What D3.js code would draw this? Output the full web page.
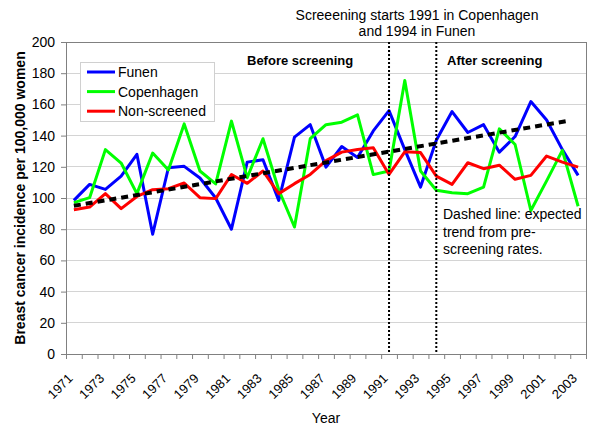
<!DOCTYPE html>
<html><head><meta charset="utf-8">
<script src="https://cdn.jsdelivr.net/npm/d3@7"></script>
<style>body{margin:0;background:#fff}svg{display:block;font-family:"Liberation Sans",Arial,sans-serif}</style>
</head><body>
<script>
const years = [1971,1972,1973,1974,1975,1976,1977,1978,1979,1980,1981,1982,1983,1984,1985,1986,1987,1988,1989,1990,1991,1992,1993,1994,1995,1996,1997,1998,1999,2000,2001,2002,2003];
const funen = [98.5,108.7,105.5,114,128,76.8,119.4,120.3,112.8,100,80,123,124.5,98.5,139,147,119.8,133,126,143,156,131,107,137,155.4,142,147,129.4,139.4,161.8,150,131,114.5];
const copenhagen = [97,100.2,131,122.4,102.8,128.8,118,147.5,117.3,109,149.3,113,138,105.3,81.4,138,147,148.6,153.3,115,117.3,175.3,117.3,105,103.4,102.8,107,144.3,134.3,92,111,130.5,94.7];
const nonScreened = [92.5,94.2,102.8,93.2,101,105.3,106,109.6,100.2,99.6,115.1,109.4,117.3,102.8,109.2,115.1,124,129.4,131.1,132.2,115.1,129.6,129.1,114,108.7,122.6,118.8,121,112,114.5,126.9,123,119.8];
const trendYears = [1971, 2002.5];
const trendValues = [95, 149.7];
const screeningYears = [1991, 1994];
const yTicks = [0,20,40,60,80,100,120,140,160,180,200];
const xLabelYears = [1971,1973,1975,1977,1979,1981,1983,1985,1987,1989,1991,1993,1995,1997,1999,2001,2003];
const seriesNames = ["Funen","Copenhagen","Non-screened"];
const seriesColors = ["#0000ff","#00ff00","#ff0000"];

const W = 600, H = 434;
const L = 66, R = 586, T = 42, B = 354;
const svg = d3.select("body").append("svg").attr("width", W).attr("height", H);

const x = d3.scaleLinear().domain([1970.5, 2003.5]).range([L, R]);
const y = d3.scaleLinear().domain([0, 200]).range([B, T]);

// gridlines
svg.append("g").selectAll("line").data(yTicks.filter(v => v > 0 && v < 200)).join("line")
  .attr("x1", L).attr("x2", R).attr("y1", d => y(d)).attr("y2", d => y(d))
  .attr("stroke", "#d4d4d4").attr("stroke-width", 1).attr("shape-rendering", "crispEdges");

// plot border
svg.append("rect").attr("x", L).attr("y", T).attr("width", R - L).attr("height", B - T)
  .attr("fill", "none").attr("stroke", "#808080").attr("stroke-width", 1).attr("shape-rendering", "crispEdges");

// y axis
const yAxis = d3.axisLeft(y).tickValues(yTicks).tickSize(5).tickPadding(6);
const gy = svg.append("g").attr("transform", `translate(${L},0)`).call(yAxis);
gy.select(".domain").attr("stroke", "#808080");
gy.selectAll(".tick line").attr("stroke", "#808080");
gy.selectAll("text").attr("font-size", 14).attr("fill", "#000").attr("font-family", "Liberation Sans, Arial, sans-serif");

// x axis: ticks at category boundaries
const boundaries = years.concat([2004]).map(v => v - 0.5);
const xAxis = d3.axisBottom(x).tickValues(boundaries).tickSize(5).tickFormat("");
const gx = svg.append("g").attr("transform", `translate(0,${B})`).call(xAxis);
gx.select(".domain").attr("stroke", "#808080");
gx.selectAll(".tick line").attr("stroke", "#808080");

// x labels rotated
svg.append("g").selectAll("text").data(xLabelYears).join("text")
  .attr("transform", d => `translate(${x(d) - 3.6},${B + 22}) rotate(-45)`)
  .attr("text-anchor", "end").attr("dy", "0.35em")
  .attr("font-size", 13).text(d => d);

// axis titles
svg.append("text").attr("x", (L + R) / 2).attr("y", 423).attr("text-anchor", "middle")
  .attr("font-size", 14).text("Year");
svg.append("text").attr("transform", `translate(25,${(T + B) / 2}) rotate(-90)`)
  .attr("text-anchor", "middle").attr("font-size", 14).attr("font-weight", "bold")
  .text("Breast cancer incidence per 100,000 women");

// series lines
const line = d3.line().x((d, i) => x(years[i])).y(d => y(d));
const allSeries = [funen, copenhagen, nonScreened];
allSeries.forEach((s, k) => {
  svg.append("path").datum(s).attr("d", line).attr("fill", "none")
    .attr("stroke", seriesColors[k]).attr("stroke-width", 3).attr("stroke-linejoin", "round");
});

// trend dashed line
const tline = d3.line().x((d, i) => x(trendYears[i])).y(d => y(d));
svg.append("path").datum(trendValues).attr("d", tline).attr("fill", "none")
  .attr("stroke", "#000").attr("stroke-width", 4).attr("stroke-dasharray", "7,5");

// screening vertical dotted lines
svg.append("g").selectAll("line").data(screeningYears).join("line")
  .attr("x1", d => x(d)).attr("x2", d => x(d)).attr("y1", T).attr("y2", B)
  .attr("stroke", "#000").attr("stroke-width", 2).attr("stroke-dasharray", "2,2");

// legend
const lg = svg.append("g");
lg.append("rect").attr("x", 80.5).attr("y", 62.5).attr("width", 134).attr("height", 59)
  .attr("fill", "#fff").attr("stroke", "#d0d0d0");
seriesNames.forEach((n, k) => {
  const yy = 72 + k * 19.6;
  lg.append("line").attr("x1", 87).attr("x2", 115).attr("y1", yy).attr("y2", yy)
    .attr("stroke", seriesColors[k]).attr("stroke-width", 3);
  lg.append("text").attr("x", 118).attr("y", yy).attr("dy", "0.35em").attr("font-size", 14).text(n);
});

// annotations
svg.append("text").attr("x", 417).attr("y", 20).attr("text-anchor", "middle").attr("font-size", 14)
  .text("Screeening starts 1991 in Copenhagen");
svg.append("text").attr("x", 417).attr("y", 36).attr("text-anchor", "middle").attr("font-size", 14)
  .text("and 1994 in Funen");
svg.append("text").attr("x", 247).attr("y", 65).attr("font-size", 13).attr("font-weight", "bold")
  .text("Before screening");
svg.append("text").attr("x", 447).attr("y", 65).attr("font-size", 13).attr("font-weight", "bold")
  .text("After screening");
["Dashed line: expected", "trend from pre-", "screening rates."].forEach((t, i) => {
  svg.append("text").attr("x", 443).attr("y", 219 + i * 17.5).attr("font-size", 14).text(t);
});
</script>
</body></html>
